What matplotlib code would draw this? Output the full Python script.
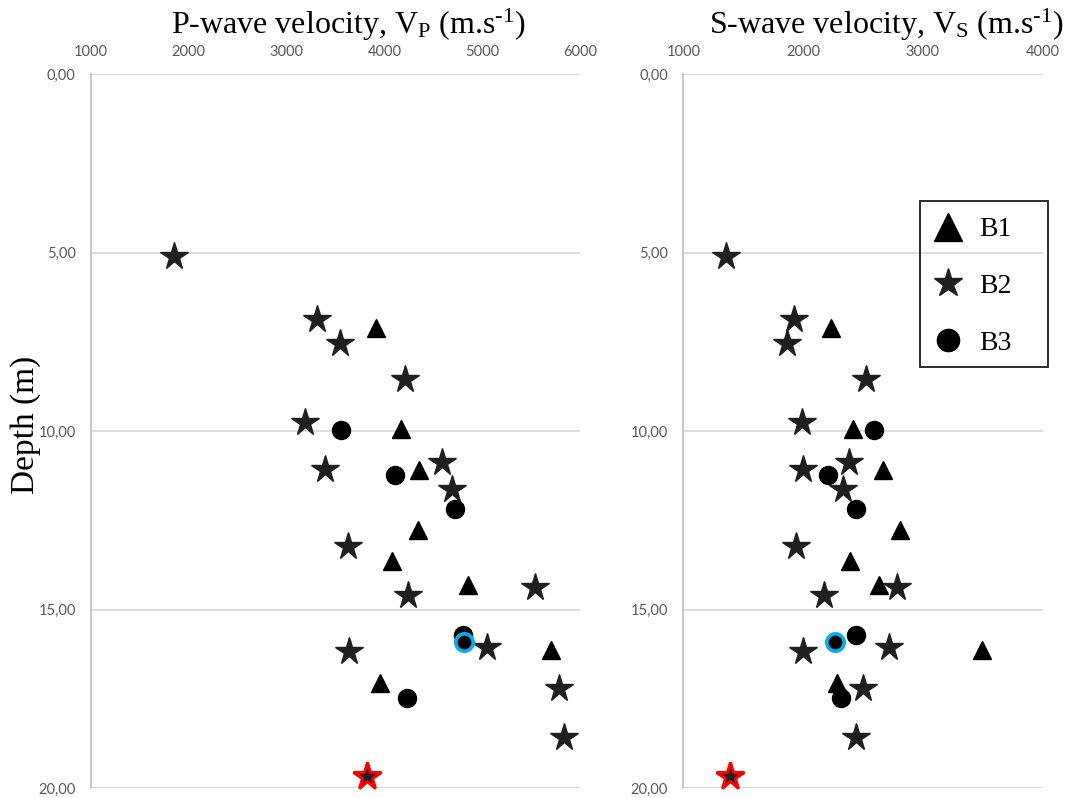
import matplotlib
matplotlib.use('Agg')
import matplotlib.pyplot as plt
from matplotlib.lines import Line2D
from matplotlib.patches import Rectangle
from matplotlib.ticker import FuncFormatter

plt.rcParams['mathtext.fontset'] = 'custom'
plt.rcParams['mathtext.rm'] = 'Liberation Serif'
plt.rcParams['mathtext.it'] = 'Liberation Serif:italic'

# --- data ---
# B1 (triangles)
b1_depth = [7.1, 9.95, 11.1, 12.78, 13.65, 14.31, 16.12, 17.06]
b1_vp = [3910, 4170, 4350, 4345, 4075, 4860, 5705, 3955]
b1_vs = [2230, 2415, 2665, 2810, 2390, 2630, 3490, 2280]

# B2 (stars)
b2_depth = [5.1, 6.85, 7.52, 8.55, 9.74, 10.86, 11.07, 11.62,
            13.23, 14.37, 14.58, 16.05, 16.16, 17.21, 18.58, 19.67]
b2_vp = [1850, 3310, 3550, 4210, 3190, 4590, 3390, 4690,
         3630, 5540, 4245, 5045, 3640, 5790, 5835, 3820]
b2_vs = [1360, 1925, 1865, 2525, 1990, 2385, 2000, 2330,
         1940, 2785, 2175, 2720, 2000, 2500, 2440, 1390]

# B3 (circles)
b3_depth = [9.96, 11.24, 12.17, 15.72, 15.91, 17.49]
b3_vp = [3560, 4110, 4720, 4800, 4815, 4230]
b3_vs = [2590, 2210, 2440, 2440, 2265, 2320]

# highlighted samples
red_idx = 15   # B2, deepest star
blue_idx = 4   # B3, ringed circle

depth_ticks = [0, 5, 10, 15, 20]
vp_ticks = [1000, 2000, 3000, 4000, 5000, 6000]
vs_ticks = [1000, 2000, 3000, 4000]

STAR = '#1f1f1f'
GRID = '#d9d9d9'
TICK = '#595959'

fig = plt.figure(figsize=(10.7, 7.98), dpi=100)
ax1 = fig.add_axes([0.085, 0.0125, 0.457, 0.8943])
ax2 = fig.add_axes([0.6386, 0.0125, 0.3359, 0.8943])


def style_axis(ax, xticks):
    ax.set_xlim(xticks[0], xticks[-1])
    ax.set_ylim(20, 0)
    ax.set_xticks(xticks)
    ax.set_yticks(depth_ticks)
    ax.xaxis.tick_top()
    ax.yaxis.set_major_formatter(FuncFormatter(lambda v, p: f'{v:.2f}'.replace('.', ',')))
    ax.tick_params(axis='both', length=0, colors=TICK, labelsize=10.5)
    ax.tick_params(axis='x', pad=11)
    ax.tick_params(axis='y', pad=11)
    for lbl in ax.get_xticklabels() + ax.get_yticklabels():
        lbl.set_family('Lato')
    for s in ['top', 'right', 'bottom']:
        ax.spines[s].set_visible(False)
    ax.spines['left'].set_color('#bfbfbf')
    ax.spines['left'].set_linewidth(1.2)
    ax.grid(axis='y', color=GRID, linewidth=1.3)
    ax.set_axisbelow(True)


def draw(ax, v1, v2, v3):
    ax.plot(v1, b1_depth, '^', color='black', ms=12.5, ls='none', clip_on=False)
    ax.plot(v2, b2_depth, '*', color=STAR, ms=20.5, ls='none', clip_on=False)
    ax.plot(v3, b3_depth, 'o', color='black', ms=13, ls='none', clip_on=False)
    ax.plot(v2[red_idx], b2_depth[red_idx], '*', color=STAR, ms=20.5,
            mec='#ff0000', mew=2.2, clip_on=False)
    ax.plot(v3[blue_idx], b3_depth[blue_idx], 'o', color='black', ms=12.5,
            mec='#00b0f0', mew=2.6, clip_on=False)


style_axis(ax1, vp_ticks)
style_axis(ax2, vs_ticks)
draw(ax1, b1_vp, b2_vp, b3_vp)
draw(ax2, b1_vs, b2_vs, b3_vs)

serif = 'Liberation Serif'
fig.text(348 / 1070, 1 - 34 / 798, r'P-wave velocity, V$_{\mathrm{P}}$ (m.s$^{\text{-1}}$)',
         ha='center', va='baseline', fontsize=23, family=serif)
fig.text(886 / 1070, 1 - 34 / 798, r'S-wave velocity, V$_{\mathrm{S}}$ (m.s$^{\text{-1}}$)',
         ha='center', va='baseline', fontsize=23, family=serif)
fig.text(26 / 1070, 1 - 425 / 798, 'Depth (m)', rotation=90, ha='center', va='center',
         fontsize=24, family=serif)

# legend box
fig.patches.append(Rectangle((920 / 1070, 1 - 367 / 798), 128 / 1070, 166 / 798,
                             transform=fig.transFigure, fill=False,
                             edgecolor='#1a1a1a', linewidth=1.3))
handles = [
    Line2D([], [], marker='^', color='black', ms=20, ls='none'),
    Line2D([], [], marker='*', color=STAR, ms=21, ls='none'),
    Line2D([], [], marker='o', color='black', ms=16, ls='none'),
]
fig.legend(handles, ['B1', 'B2', 'B3'], loc='upper left',
           bbox_to_anchor=(929 / 1070, 1 - 217 / 798), frameon=False,
           prop={'family': serif, 'size': 20}, labelspacing=1.12,
           handlelength=1.4, handletextpad=0.4, borderaxespad=0, borderpad=0)

plt.savefig('out.png', dpi=100)
